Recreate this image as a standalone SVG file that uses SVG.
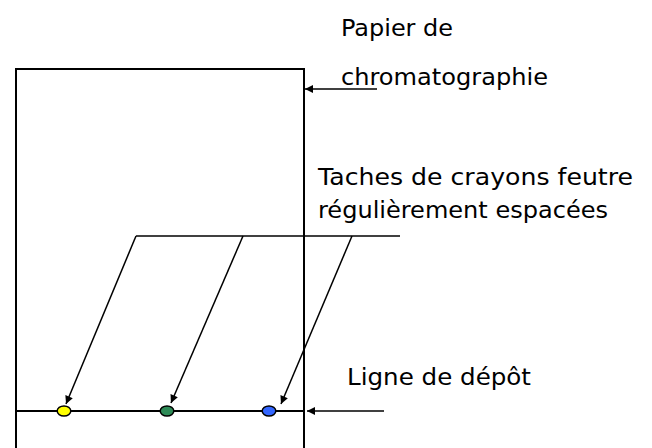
<svg xmlns="http://www.w3.org/2000/svg" width="652" height="448" viewBox="0 0 652 448">
<style>
.ln{stroke:#000;stroke-width:2;fill:none}
.th{stroke:#000;stroke-width:1.5;fill:none}
.t{font-family:"DejaVu Sans","Noto Sans",sans-serif;font-size:23px;fill:#000}
.dot{stroke:#000;stroke-width:1.5}
</style>
<defs>
<marker id="ah" viewBox="0 0 10 10" refX="10" refY="5" markerWidth="9" markerHeight="8" markerUnits="userSpaceOnUse" orient="auto">
<path d="M0,0 L10,5 L0,10 z" fill="#000"/>
</marker>
</defs>
<g id="paper">
<path class="ln" d="M16,449 V69 H304 V449"/>
</g>
<g id="baseline">
<line class="ln" x1="16" y1="411" x2="304" y2="411"/>
</g>
<g id="dots">
<ellipse class="dot" cx="64" cy="411" rx="6.8" ry="5" fill="#ffff00"/>
<ellipse class="dot" cx="167" cy="411" rx="6.8" ry="5" fill="#2e8b57"/>
<ellipse class="dot" cx="269" cy="411" rx="6.8" ry="5" fill="#3366ff"/>
</g>
<g id="connectors">
<line class="th" x1="377" y1="89" x2="305" y2="89" marker-end="url(#ah)"/>
<line class="th" x1="384" y1="411" x2="307" y2="411" marker-end="url(#ah)"/>
<line class="th" x1="136" y1="236" x2="400" y2="236"/>
<line class="th" x1="136" y1="236" x2="66" y2="404" marker-end="url(#ah)"/>
<line class="th" x1="243" y1="236" x2="171" y2="403" marker-end="url(#ah)"/>
<line class="th" x1="352" y1="236" x2="281" y2="404" marker-end="url(#ah)"/>
</g>
<g id="labels">
<text class="t" x="341" y="36" textLength="112" lengthAdjust="spacingAndGlyphs">Papier de</text>
<text class="t" x="341" y="85" textLength="207" lengthAdjust="spacingAndGlyphs">chromatographie</text>
<text class="t" x="318" y="185" textLength="315" lengthAdjust="spacingAndGlyphs">Taches de crayons feutre</text>
<text class="t" x="318" y="218" textLength="290" lengthAdjust="spacingAndGlyphs">régulièrement espacées</text>
<text class="t" x="347" y="385" textLength="184" lengthAdjust="spacingAndGlyphs">Ligne de dépôt</text>
</g>
</svg>
